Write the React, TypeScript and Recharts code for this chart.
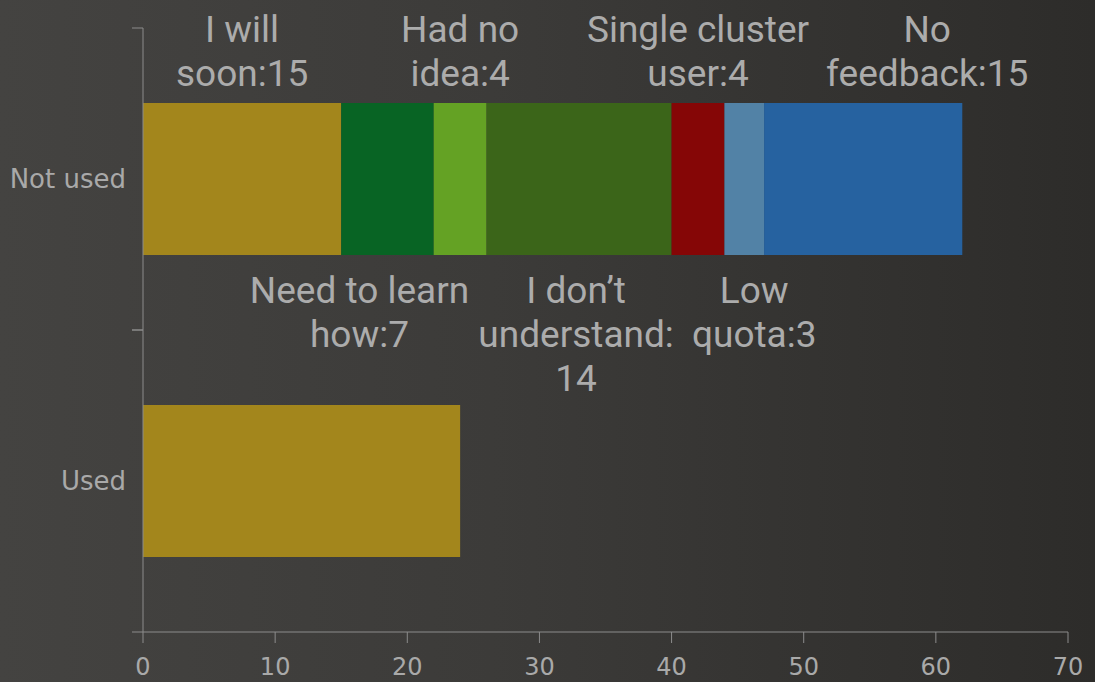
import { BarChart, Bar, XAxis, YAxis, LabelList } from 'recharts';

const categories = ['Not used', 'Used'];

const seriesNames = [
  'I will soon',
  'Need to learn how',
  'Had no idea',
  'I don’t understand',
  'Single cluster user',
  'Low quota',
  'No feedback',
];

// how each label breaks over lines; the value goes after the last part
const labelLines = [
  ['I will', 'soon:'],
  ['Need to learn', 'how:'],
  ['Had no', 'idea:'],
  ['I don’t', 'understand:', ''],
  ['Single cluster', 'user:'],
  ['Low', 'quota:'],
  ['No', 'feedback:'],
];

const notUsedValues = [15, 7, 4, 14, 4, 3, 15];
const usedValues = [24, 0, 0, 0, 0, 0, 0];

const xTicks = [0, 10, 20, 30, 40, 50, 60, 70];

const colors = ['#a3861c', '#086424', '#64a224', '#3b6519', '#850606', '#5282a6', '#2662a0'];
// nudges so neighbouring labels don't collide
const labelDx = [0, -28, 0, -3, 0, 10, 64];

const rows = categories.map((name, ci) => {
  const vals = ci === 0 ? notUsedValues : usedValues;
  const row: Record<string, string | number> = { name };
  seriesNames.forEach((s, si) => {
    row[s] = vals[si];
  });
  return row;
});

const axisColor = '#8c8c8c';
const tickColor = '#a9a9a9';

function YTick(props: any) {
  const { x, y, payload } = props;
  const half = payload && payload.offset ? payload.offset : 151;
  return (
    <g>
      <line x1={132} x2={143} y1={y - half} y2={y - half} stroke={axisColor} />
      <line x1={132} x2={143} y1={y + half} y2={y + half} stroke={axisColor} />
      <text
        x={x - 9}
        y={y + 9}
        textAnchor="end"
        fill={tickColor}
        fontSize={26}
        fontFamily="DejaVu Sans"
      >
        {payload.value}
      </text>
    </g>
  );
}

function makeLabel(si: number) {
  return (props: any) => {
    const { index, value } = props;
    if (index !== 0 || !value) return null;
    const x = Number(props.x);
    const y = Number(props.y);
    const w = Number(props.width);
    const h = Number(props.height);
    const parts = labelLines[si].slice();
    parts[parts.length - 1] = parts[parts.length - 1] + value;
    const cx = x + w / 2 + labelDx[si];
    const lh = 44;
    const above = si % 2 === 0;
    const first = above ? y - 17 - (parts.length - 1) * lh : y + h + 48;
    return (
      <text textAnchor="middle" fill="#acacac" fontSize={37} fontFamily="Roboto">
        {parts.map((p, i) => (
          <tspan key={i} x={cx} y={first + i * lh}>
            {p}
          </tspan>
        ))}
      </text>
    );
  };
}

export default function App() {
  return (
    <div
      style={{
        position: 'absolute',
        left: 0,
        top: 0,
        width: 1095,
        height: 682,
        background: 'linear-gradient(to right, #444341 0%, #3c3b39 45%, #2d2c2a 100%)',
      }}
    >
      <BarChart
        width={1095}
        height={682}
        data={rows}
        layout="vertical"
        margin={{ top: 28, right: 27, bottom: 0, left: 0 }}
      >
        <XAxis
          type="number"
          domain={[0, 70]}
          ticks={xTicks}
          height={50}
          stroke={axisColor}
          tickSize={11}
          tickMargin={15}
          tick={{ fill: tickColor, fontSize: 24, fontFamily: 'DejaVu Sans' }}
        />
        <YAxis
          type="category"
          dataKey="name"
          width={143}
          stroke={axisColor}
          tickLine={false}
          tick={<YTick />}
        />
        {seriesNames.map((s, si) => (
          <Bar key={s} dataKey={s} stackId="a" fill={colors[si]} barSize={152} isAnimationActive={false}>
            <LabelList dataKey={s} content={makeLabel(si)} />
          </Bar>
        ))}
      </BarChart>
    </div>
  );
}
